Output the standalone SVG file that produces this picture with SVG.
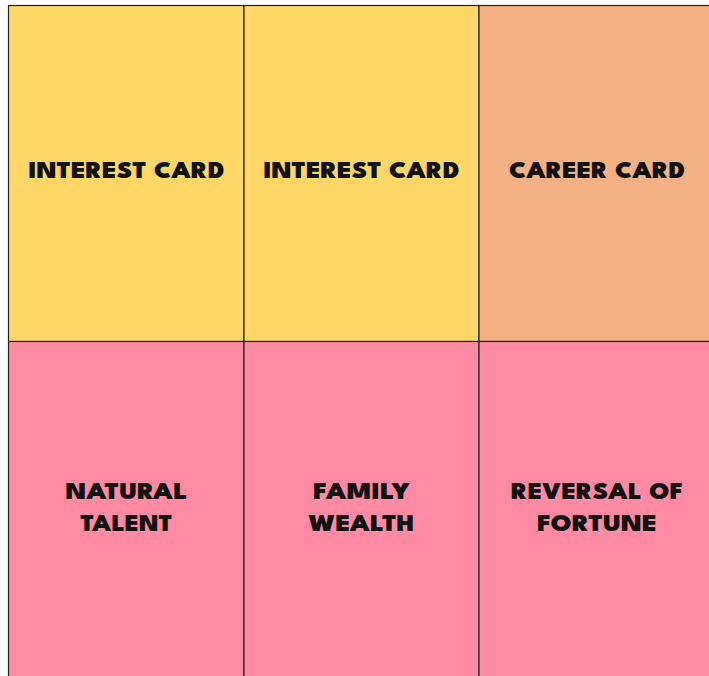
<svg xmlns="http://www.w3.org/2000/svg" width="709" height="676" viewBox="0 0 709 676">
<style>
.c{stroke:#222;stroke-width:1.2}
.y{fill:#FED766}.o{fill:#F4B183}.p{fill:#FF8AA3}
text{font-family:"League Spartan","Lato","DejaVu Sans",sans-serif;font-weight:900;font-size:23px;fill:#111;text-anchor:middle}
</style>
<rect width="709" height="676" fill="#fff"/>
<g id="n1"><rect class="c y" x="8.5" y="5.5" width="235.5" height="336"/><text x="126.5" y="178" textLength="196" lengthAdjust="spacingAndGlyphs">INTEREST CARD</text></g>
<g id="n2"><rect class="c y" x="244" y="5.5" width="235" height="336"/><text x="361.5" y="178" textLength="196" lengthAdjust="spacingAndGlyphs">INTEREST CARD</text></g>
<g id="n3"><rect class="c o" x="479" y="5.5" width="240" height="336"/><text x="597" y="178" textLength="176" lengthAdjust="spacingAndGlyphs">CAREER CARD</text></g>
<g id="n4"><rect class="c p" x="8.5" y="341.5" width="235.5" height="340"/><text x="126.5" y="498.5" textLength="122" lengthAdjust="spacingAndGlyphs">NATURAL</text><text x="126.5" y="531" textLength="92" lengthAdjust="spacingAndGlyphs">TALENT</text></g>
<g id="n5"><rect class="c p" x="244" y="341.5" width="235" height="340"/><text x="361.5" y="498.5" textLength="97" lengthAdjust="spacingAndGlyphs">FAMILY</text><text x="361.5" y="531" textLength="106" lengthAdjust="spacingAndGlyphs">WEALTH</text></g>
<g id="n6"><rect class="c p" x="479" y="341.5" width="240" height="340"/><text x="597" y="498.5" textLength="172" lengthAdjust="spacingAndGlyphs">REVERSAL OF</text><text x="597" y="531" textLength="120" lengthAdjust="spacingAndGlyphs">FORTUNE</text></g>
<g id="connectors"/>
</svg>
